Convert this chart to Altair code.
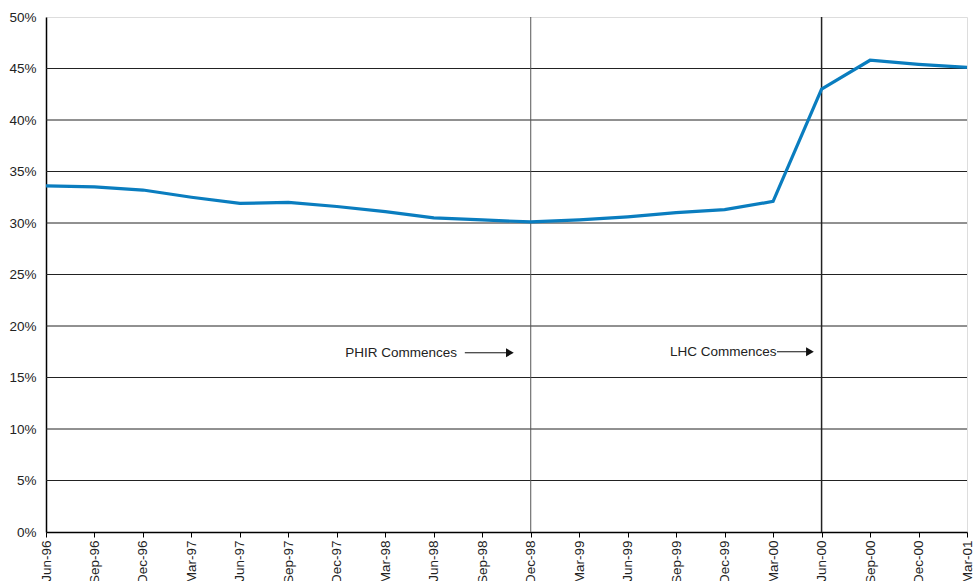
import altair as alt
import pandas as pd

quarters = ["Jun-96", "Sep-96", "Dec-96", "Mar-97", "Jun-97", "Sep-97", "Dec-97", "Mar-98",
            "Jun-98", "Sep-98", "Dec-98", "Mar-99", "Jun-99", "Sep-99", "Dec-99", "Mar-00",
            "Jun-00", "Sep-00", "Dec-00", "Mar-01"]
values = [33.6, 33.5, 33.2, 32.5, 31.9, 32.0, 31.6, 31.1, 30.5, 30.3,
          30.1, 30.3, 30.6, 31.0, 31.3, 32.1, 43.0, 45.8, 45.4, 45.1]
grid_levels = [5, 10, 15, 20, 25, 30, 35, 40, 45]
event_idx = [10, 16]
event_color = ["#555555", "#222222"]
event_width = [1, 1.5]
ann_text = ["PHIR Commences", "LHC Commences"]
ann_text_x = [8.48, 15.07]
ann_arrow_x0 = [8.64, 15.08]
ann_arrow_x1 = [9.57, 15.76]
ann_y = [17.4, 17.5]

FONT = "Liberation Sans"
FS = 13.5

df = pd.DataFrame({"i": list(range(len(quarters))), "q": quarters, "v": values})
grid_df = pd.DataFrame({"g": grid_levels})
ev_df = pd.DataFrame({"x": event_idx, "c": event_color, "w": event_width})
ann_df = pd.DataFrame({"t": ann_text, "tx": ann_text_x, "x0": ann_arrow_x0,
                       "x1": ann_arrow_x1, "y": ann_y})

label_arr = "[" + ",".join("'" + q + "'" for q in quarters) + "]"

xscale = alt.Scale(domain=[0, len(quarters) - 1], nice=False, zero=False)
yscale = alt.Scale(domain=[0, 50], nice=False)

xaxis = alt.Axis(values=list(range(len(quarters))), labelExpr=label_arr + "[datum.value]",
                 labelAngle=270, labelAlign="right", labelBaseline="middle",
                 labelFont=FONT, labelFontSize=FS, labelColor="#222222",
                 grid=False, domainColor="#000000", domainWidth=1.5,
                 tickColor="#000000", tickSize=5, tickWidth=1, labelPadding=3,
                 labelOverlap=False, labelBound=False, title=None)
yaxis = alt.Axis(values=list(range(0, 51, 5)), labelExpr="datum.value + '%'",
                 labelFont=FONT, labelFontSize=FS, labelColor="#222222",
                 grid=False, domainColor="#000000", domainWidth=1.5,
                 ticks=False, labelPadding=10, title=None)

grid = alt.Chart(grid_df).mark_rule(color="#222222", strokeWidth=1).encode(
    y=alt.Y("g:Q", scale=yscale, axis=yaxis))

events = alt.Chart(ev_df).mark_rule().encode(
    x=alt.X("x:Q", scale=xscale, axis=xaxis),
    color=alt.Color("c:N", scale=None),
    strokeWidth=alt.StrokeWidth("w:Q", scale=None))

line = alt.Chart(df).mark_line(color="#0a7dbf", strokeWidth=3.2).encode(
    x=alt.X("i:Q", scale=xscale, axis=xaxis),
    y=alt.Y("v:Q", scale=yscale, axis=yaxis))

texts = alt.Chart(ann_df).mark_text(align="right", baseline="middle", font=FONT,
                                    fontSize=FS, color="#222222").encode(
    x=alt.X("tx:Q", scale=xscale), y=alt.Y("y:Q", scale=yscale), text="t:N")

shafts = alt.Chart(ann_df).mark_rule(color="#111111", strokeWidth=1).encode(
    x=alt.X("x0:Q", scale=xscale), x2="x1:Q", y=alt.Y("y:Q", scale=yscale))

heads = alt.Chart(ann_df).mark_point(shape="triangle-right", filled=True, color="#111111",
                                     size=80, opacity=1).encode(
    x=alt.X("x1:Q", scale=xscale), y=alt.Y("y:Q", scale=yscale))

chart = alt.layer(grid, events, line, texts, shafts, heads).properties(
    width=921, height=515,
    autosize=alt.AutoSizeParams(type="none"),
    padding={"left": 46, "top": 17, "right": 6, "bottom": 49},
).configure_view(stroke="#888888", strokeWidth=1).configure(background="white")

chart.save("out.html", embed_options={"renderer": "svg", "actions": False})
